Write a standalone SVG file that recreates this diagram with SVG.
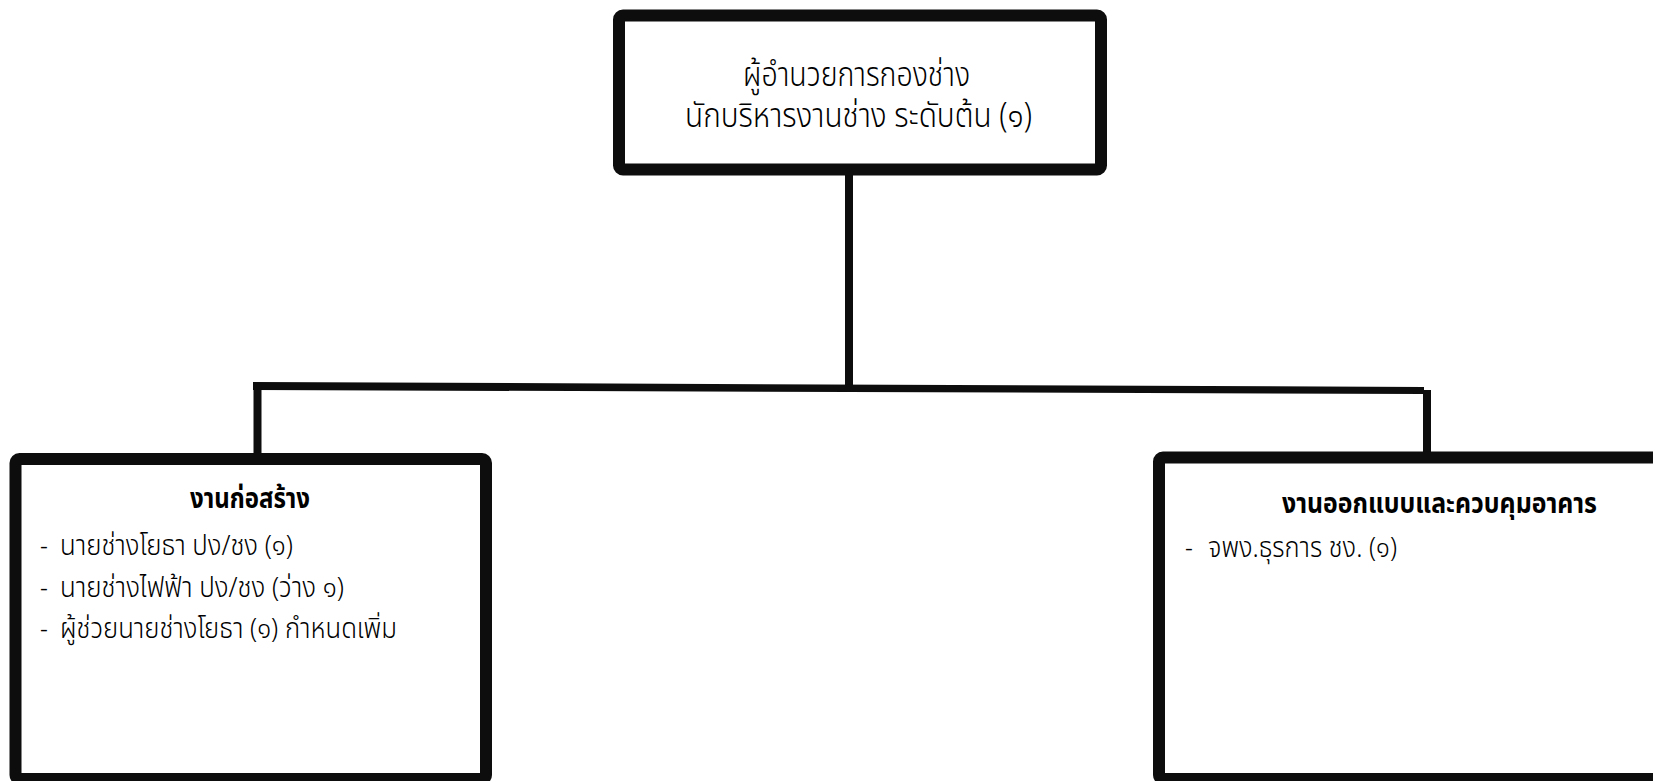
<svg xmlns="http://www.w3.org/2000/svg" width="1653" height="781" viewBox="0 0 1653 781">
<style>
.box{fill:#fff;stroke:#0d0d0d;stroke-width:12;}
.conn{stroke:#0d0d0d;stroke-width:8;fill:none;}
text{font-family:"Noto Sans Thai","Noto Sans","Liberation Sans",sans-serif;fill:#000;}
.top{font-size:29px;font-weight:300;text-anchor:middle;}
.title{font-size:24.5px;font-weight:bold;text-anchor:middle;}
.item{font-size:24.5px;font-weight:300;}
</style>
<rect width="1653" height="781" fill="#fff"/>
<g id="connectors">
<line class="conn" x1="849" y1="170" x2="849" y2="388"/>
<polygon points="253,382 1424,387 1424,394 253,390" fill="#0d0d0d"/>
<line class="conn" x1="257.5" y1="386" x2="257.5" y2="456"/>
<line class="conn" x1="1427" y1="390" x2="1427" y2="456"/>
</g>
<g id="node-top">
<rect class="box" x="619" y="15.5" width="482" height="154" rx="4"/>
<text class="top" transform="translate(856.5,86) scale(1,1.18)" textLength="227" lengthAdjust="spacingAndGlyphs">ผู้อำนวยการกองช่าง</text>
<text class="top" transform="translate(858.5,127) scale(1,1.18)" textLength="347" lengthAdjust="spacingAndGlyphs">นักบริหารงานช่าง ระดับต้น (๑)</text>
</g>
<g id="node-left">
<rect class="box" x="15.5" y="459" width="470.5" height="320" rx="4"/>
<text class="title" transform="translate(250,508) scale(1,1.15)" textLength="120" lengthAdjust="spacingAndGlyphs">งานก่อสร้าง</text>
<text class="item" transform="translate(40,555) scale(1,1.15)">-</text>
<text class="item" transform="translate(60,555) scale(1,1.15)" textLength="233" lengthAdjust="spacingAndGlyphs">นายช่างโยธา ปง/ชง (๑)</text>
<text class="item" transform="translate(40,597) scale(1,1.15)">-</text>
<text class="item" transform="translate(60,597) scale(1,1.15)" textLength="284" lengthAdjust="spacingAndGlyphs">นายช่างไฟฟ้า ปง/ชง (ว่าง ๑)</text>
<text class="item" transform="translate(40,638) scale(1,1.15)">-</text>
<text class="item" transform="translate(60,638) scale(1,1.15)" textLength="337" lengthAdjust="spacingAndGlyphs">ผู้ช่วยนายช่างโยธา (๑) กำหนดเพิ่ม</text>
</g>
<g id="node-right">
<rect class="box" x="1159" y="457.5" width="510" height="321.5" rx="4"/>
<text class="title" transform="translate(1439.5,513) scale(1,1.15)" textLength="315" lengthAdjust="spacingAndGlyphs">งานออกแบบและควบคุมอาคาร</text>
<text class="item" transform="translate(1185,557) scale(1,1.15)">-</text>
<text class="item" transform="translate(1208,557) scale(1,1.15)" textLength="189" lengthAdjust="spacingAndGlyphs">จพง.ธุรการ ชง. (๑)</text>
</g>
</svg>
